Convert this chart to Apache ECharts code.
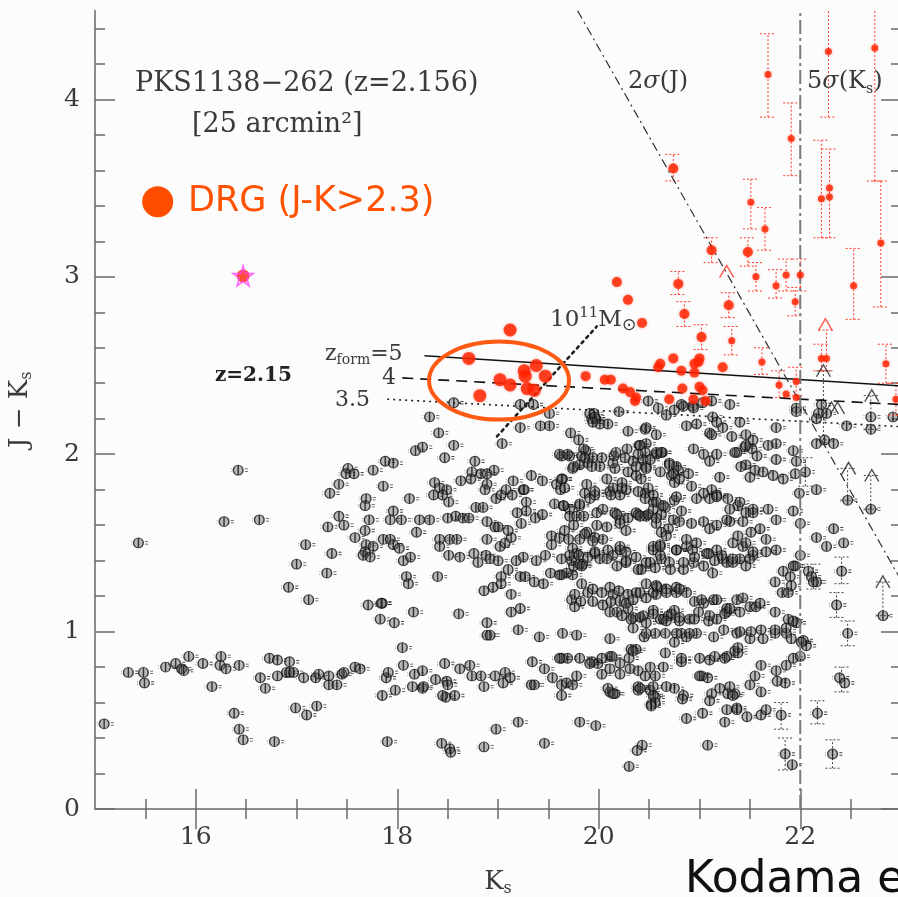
<!DOCTYPE html>
<html>
<head>
<meta charset="utf-8">
<title>PKS1138-262 J-Ks vs Ks</title>
<script src="https://cdn.jsdelivr.net/npm/echarts@6/dist/echarts.min.js"></script>
<style>
  html, body { margin: 0; padding: 0; background: #fcfcfc; }
  #chart { width: 898px; height: 897px; }
</style>
</head>
<body>
<div id="chart"></div>
<script>
// ---- axis ticks ----
const xMajorTicks = [16, 18, 20, 22];
const xMinorTicks = [15.5, 16.5, 17, 17.5, 18.5, 19, 19.5, 20.5, 21, 21.5, 22.5];
const yMajorTicks = [0, 1, 2, 3, 4];
const yMinorTicks = [0.2, 0.4, 0.6, 0.8, 1.2, 1.4, 1.6, 1.8, 2.2, 2.4, 2.6, 2.8, 3.2, 3.4, 3.6, 3.8, 4.2, 4.4];

// ---- field galaxies [Ks, J-Ks] ----
const fieldBright = [
[15.09,0.48],[15.33,0.77],[15.48,0.77],[15.49,0.71],[15.70,0.80],[15.80,0.82],[15.86,0.79],[15.88,0.78],[15.93,0.86],[16.07,0.82],[16.16,0.69],[16.25,0.86],[16.24,0.81],[16.30,0.79],[16.38,0.54],[16.43,0.81],[16.43,0.45],[16.47,0.39],[16.64,0.74],[16.69,0.68],[16.73,0.85],[16.78,0.38],[16.81,0.84],[16.81,0.75],[16.90,0.77],[16.93,0.77],[16.97,0.77],[16.93,0.83],[16.99,0.57],[17.07,0.74],[17.10,0.53],[17.19,0.74],[17.20,0.58],[17.22,0.76],[17.32,0.75],[17.32,0.70],[17.40,0.70],[17.45,0.76],[17.47,0.77],[17.58,0.80],[17.63,0.79],[17.71,1.15],[17.85,1.16],[17.83,1.07],[17.89,0.74],[17.85,0.64],[17.90,0.38],[17.91,0.77],[17.12,1.18],
[16.42,1.91],[16.28,1.62],[16.63,1.63],[15.43,1.50],[17.09,1.49],[17.00,1.38],[16.92,1.25],[17.30,1.33],[17.35,1.44],[17.31,1.59],[17.42,1.65],[17.47,1.60],[17.33,1.78],[17.42,1.83],[17.51,1.92],[17.49,1.89],[17.57,1.89],[17.76,1.91],[17.86,1.82],[17.69,1.75],[17.68,1.71],[17.72,1.63],[17.68,1.57],[17.58,1.53],[17.69,1.49],[17.76,1.48],[17.68,1.45],[17.66,1.43],[17.73,1.42],[17.86,1.52],[17.84,1.16],[17.88,1.96],
[17.98,0.67],[18.25,0.68],[18.48,0.63],[18.57,0.64],[18.44,0.37],[18.52,0.34],[18.53,0.32],[18.41,2.12],[18.18,2.02],[18.25,2.04],[18.47,1.98],[17.96,1.95],[18.37,1.84],[18.42,1.81],[18.49,1.80],[18.12,1.75],[18.36,1.77],[18.45,1.77],[18.51,1.73],[17.96,1.68],[17.93,1.63],[18.04,1.63],[18.22,1.63],[18.32,1.63],[18.50,1.64],[18.19,1.56],[18.42,1.52],[17.93,1.52],[17.96,1.49],[18.02,1.47],[18.42,1.48],[18.06,1.40],[18.13,1.42],[18.09,1.31],[18.11,1.27],[18.40,1.31],[18.16,1.11],[17.97,1.05],[18.05,0.91],[18.47,0.82],[18.49,0.72],[18.06,0.81],[18.17,0.76],[18.25,0.78],[18.38,0.73],[18.50,0.70],[18.15,0.69],[18.26,0.69],[18.45,0.64],[18.32,2.21]
];

const fieldMid = [
[18.86,0.35],[18.98,0.45],[19.20,0.49],[19.46,0.37],[19.63,0.64],[19.81,0.49],[19.97,0.47],[20.11,0.66],[20.16,0.65],
[19.72,2.12],[20.29,2.13],[18.56,2.05],[19.04,2.06],[19.80,2.08],[20.28,2.03],[19.63,1.99],[19.71,1.99],[19.87,2.02],[19.83,1.99],[19.94,1.98],[20.03,1.98],[20.15,1.99],[18.77,1.96],
[18.74,1.90],[18.83,1.89],[18.89,1.89],[18.96,1.91],[19.33,1.88],[19.44,1.85],[18.63,1.85],[18.73,1.86],[18.89,1.83],[18.87,1.80],[19.15,1.85],[19.25,1.80],[19.58,1.83],[19.64,1.86],[19.62,1.80],[19.74,1.92],[19.81,1.94],[19.89,1.95],[20.01,1.93],[20.08,1.86],[20.16,1.92],[20.23,1.84],[20.29,1.90],
[18.98,1.75],[19.03,1.77],[19.08,1.80],[19.14,1.77],[19.26,1.80],[19.28,1.73],[19.56,1.72],[19.65,1.71],[19.71,1.69],[19.81,1.71],[19.86,1.78],[19.91,1.75],[19.96,1.77],[20.11,1.79],[20.21,1.77],[20.27,1.80],
[18.58,1.65],[18.65,1.64],[18.71,1.64],[18.78,1.70],[18.85,1.70],[19.19,1.67],[19.28,1.68],[19.37,1.64],[19.44,1.66],[18.89,1.62],[18.97,1.59],[19.00,1.59],[19.71,1.65],[19.78,1.65],[19.85,1.65],[19.98,1.67],[20.04,1.69],[20.16,1.67],[20.21,1.63],[20.29,1.64],
[18.52,1.52],[18.59,1.52],[18.89,1.52],[19.02,1.48],[19.07,1.50],[19.13,1.53],[19.10,1.57],[19.23,1.61],[19.53,1.54],[19.61,1.53],[19.53,1.49],[19.70,1.52],[19.81,1.52],[19.88,1.56],[19.96,1.53],
[18.51,1.43],[18.62,1.42],[18.76,1.44],[18.80,1.39],[18.88,1.43],[18.92,1.41],[19.00,1.40],[19.18,1.40],[19.25,1.42],[19.38,1.40],[19.47,1.43],[19.74,1.47],[19.78,1.44],[19.73,1.40],[19.84,1.38],[19.89,1.42],[19.96,1.44],[20.01,1.41],[20.09,1.46],[20.14,1.43],[20.21,1.46],[20.27,1.40],
[19.03,1.31],[19.10,1.35],[19.22,1.31],[19.27,1.31],[19.36,1.28],[19.45,1.27],[18.95,1.25],[18.86,1.23],[19.03,1.27],[19.13,1.21],[19.52,1.33],[19.63,1.32],[19.74,1.32],[19.83,1.27],[19.89,1.22],[19.94,1.24],[20.03,1.22],[20.11,1.25],[20.14,1.21],[20.20,1.23],[20.29,1.21],[19.73,1.18],[19.82,1.17],[19.76,1.21],
[18.61,1.10],[19.13,1.11],[19.22,1.13],[18.89,1.05],[20.11,1.11],[20.18,1.11],[20.23,1.09],[20.29,1.13],
[19.20,1.01],[18.89,0.98],[18.92,0.98],[19.41,0.97],[19.64,0.99],[19.78,0.98],[20.11,0.96],
[19.34,0.83],[19.46,0.79],[19.63,0.85],[19.69,0.85],[19.81,0.85],[19.93,0.83],[19.99,0.82],[20.11,0.86],[20.21,0.82],[18.62,0.79],[18.72,0.81],[18.74,0.75],[18.83,0.75],[18.97,0.75],[19.07,0.77],[19.12,0.74],[18.86,0.69],[19.05,0.71],[19.33,0.70],[19.36,0.70],[19.54,0.74],[19.63,0.70],[19.68,0.71],[19.74,0.70],[19.78,0.75],
[20.03,0.76],[20.11,0.79],[20.21,0.76],[20.09,0.68],[20.14,0.65],
[20.20,2.24],[19.95,2.23],[19.93,2.20],[20.01,2.17],[20.09,2.17],[19.97,2.20],[19.85,2.03],[19.86,1.98],[20.17,2.01],[20.26,1.98],[19.61,2.00],[19.69,2.00],[19.75,1.93],[19.93,1.93],[20.14,1.95],[19.63,1.86],[19.66,1.81],[19.88,1.83],[19.96,1.79],[20.14,1.81],[20.23,1.81],[19.65,1.71],[19.81,1.72],[20.12,1.77],[20.18,1.66],
[19.66,1.57],[19.75,1.60],[19.86,1.55],[19.98,1.60],[20.08,1.59],[20.21,1.61],[20.27,1.57],[19.94,1.51],[20.04,1.52],[20.21,1.48],[20.27,1.45],[19.80,1.43],[19.71,1.43],[19.96,1.45],[19.63,1.41],[19.68,1.33],[19.75,1.37],[19.81,1.38],[20.08,1.41],[20.18,1.37],[20.27,1.39],
[19.61,1.32],[19.83,1.37],[19.76,1.14],[19.94,1.17],[20.04,1.15],[20.12,1.17],[20.21,1.17],[20.27,1.16],[20.13,0.86],[20.03,0.85],[19.91,0.82],[19.61,0.85],
[18.56,2.29],[19.22,2.28],[19.35,2.28],[19.51,2.23],[19.22,2.15],[19.42,2.16],[19.51,2.16],[19.91,2.23],[19.96,2.21],[19.94,2.18]
];

const fieldFaint = [
[20.43,0.36],[20.38,0.33],[20.30,0.24],[20.52,0.59],[20.39,0.67],[20.51,0.67],
[20.46,2.14],[20.57,2.11],[20.40,2.05],[20.47,2.06],[20.57,2.00],[20.63,2.01],[20.34,1.96],[20.44,1.97],[20.47,1.93],[20.70,1.95],[20.77,1.93],[20.37,1.88],[20.61,1.90],[20.72,1.88],[20.75,1.84],[20.46,1.78],[20.54,1.73],[20.66,1.70],[20.75,1.74],[20.37,1.67],[20.47,1.65],[20.39,1.66],[20.54,1.69],[20.62,1.66],[20.69,1.58],[20.74,1.63],
[20.37,1.42],[20.42,1.35],[20.47,1.39],[20.54,1.46],[20.62,1.41],[20.70,1.39],[20.77,1.46],[20.37,1.22],[20.47,1.19],[20.57,1.21],[20.67,1.24],[20.77,1.22],[20.34,1.08],[20.44,1.09],[20.54,1.12],[20.61,1.07],[20.69,1.09],[20.75,1.12],[20.45,0.97],[20.56,0.99],[20.66,0.88],[20.75,0.94],[20.32,0.90],[20.37,0.90],[20.30,0.85],[20.31,0.79],[20.34,0.89],[20.39,0.69],[20.46,0.75],[20.56,0.75],[20.54,0.69],[20.64,0.80],[20.75,0.68],[20.56,0.63],
[20.67,2.22],[20.75,2.25],[20.82,2.28],[20.93,2.27],[21.03,2.29],[21.30,2.28],[20.47,2.15],[20.87,2.16],[20.97,2.17],[21.10,2.12],[21.23,2.15],[21.40,2.18],[21.32,2.10],[20.41,2.05],[20.46,2.01],[20.51,1.97],[20.39,2.00],[20.57,2.01],[20.62,2.01],[20.94,2.03],[21.04,2.00],[21.10,1.96],[21.17,2.00],[21.37,2.01],[21.45,2.04],[21.52,2.03],[21.57,1.99],
[20.37,1.93],[20.47,1.92],[20.70,1.94],[20.79,1.91],[20.74,1.89],[20.80,1.86],[20.89,1.89],[21.20,1.87],[21.12,1.80],[21.46,1.94],[21.55,1.91],[21.50,1.87],[20.39,1.79],[20.49,1.81],[20.54,1.77],[20.46,1.75],[20.42,1.86],
[20.41,1.65],[20.49,1.66],[20.57,1.73],[20.82,1.68],[20.97,1.75],[21.10,1.75],[21.17,1.77],[21.28,1.75],[21.38,1.71],[21.46,1.67],[21.53,1.69],[21.43,1.62],
[20.57,1.61],[20.62,1.56],[20.61,1.49],[20.54,1.48],[20.67,1.54],[20.80,1.62],[20.92,1.61],[21.04,1.62],[21.10,1.58],[21.17,1.60],[21.30,1.62],[21.38,1.54],[21.51,1.56],[21.43,1.48],[21.33,1.50],[20.87,1.48],[20.93,1.46],[21.07,1.44],[21.15,1.40],[21.23,1.41],
[20.39,1.35],[20.51,1.39],[20.61,1.43],[20.84,1.35],[20.94,1.39],[21.04,1.37],[21.13,1.33],[21.27,1.39],[21.40,1.41],[21.46,1.37],[21.53,1.43],
[20.34,1.18],[20.41,1.22],[20.47,1.27],[20.54,1.22],[20.58,1.25],[20.67,1.22],[20.77,1.25],[20.87,1.22],[20.95,1.17],[21.04,1.16],[21.14,1.18],[21.27,1.13],[21.37,1.18],
[20.32,1.07],[20.41,1.08],[20.47,1.05],[20.54,1.10],[20.64,1.07],[20.72,1.10],[20.80,1.06],[20.90,1.07],[20.99,1.11],[21.09,1.06],[21.17,1.07],[21.27,1.11],
[20.34,1.02],[20.47,0.99],[20.66,0.99],[20.77,0.99],[20.87,0.97],[20.97,0.99],[21.14,0.97],[21.24,1.01],[21.37,0.99],
[20.39,0.78],[20.51,0.80],[20.82,0.83],[21.00,0.85],[21.10,0.84],[21.27,0.86],[21.35,0.89],[20.67,0.69],
[20.41,0.68],[20.54,0.64],[20.56,0.60],[20.52,0.58],[20.84,0.64],[21.02,0.75],[21.12,0.65],[21.20,0.68],[21.30,0.69],[21.35,0.65],[21.37,0.57],
[20.87,0.51],[21.03,0.54],[21.25,0.49],
[22.41,1.34],[22.36,1.15],[22.47,0.99],[22.39,0.74],[22.44,0.71],[22.17,0.54],[22.32,0.31],[22.82,1.09],[22.08,1.34],[22.11,1.31],[22.16,1.28],[22.13,1.28],[21.95,1.37],[22.03,0.95],[22.06,0.92],[21.93,0.85],[22.00,0.86],[21.85,0.71],[21.81,0.53],[21.77,0.72],[21.85,0.31],[21.92,0.25],[21.08,0.36],[21.27,0.56],[21.37,0.56],[21.47,0.52],[21.61,0.53],[21.66,0.56],[21.10,0.61],[21.28,0.65],[21.33,0.64],[21.50,0.70],[21.61,0.66],
[20.83,0.62],[21.00,0.75],[21.08,0.74],[21.25,0.85],[21.38,0.88],[21.55,0.75],[21.61,0.81],[21.76,0.78],[21.86,0.81],[20.82,0.85],[21.15,0.86],
[21.38,0.91],[21.50,0.96],[21.63,0.96],[21.75,0.99],[21.86,0.99],[21.91,0.96],[22.01,0.94],
[20.82,0.99],[20.90,0.99],[21.40,1.00],[21.51,1.00],[21.61,1.01],[21.75,1.01],[21.86,1.02],[21.96,1.05],
[20.67,1.06],[20.80,1.08],[20.95,1.07],[21.10,1.09],[21.25,1.10],[21.40,1.11],[21.50,1.14],[21.56,1.14],[21.75,1.11],[21.88,1.07],[21.93,1.06],
[20.57,1.26],[20.80,1.24],[21.02,1.18],[21.17,1.18],[21.30,1.13],[21.43,1.19],[21.60,1.16],[21.75,1.28],[21.82,1.22],[21.88,1.22],[21.91,1.26],[21.93,1.37],
[20.56,1.36],[20.71,1.35],[20.84,1.39],[20.95,1.42],[21.09,1.44],[21.22,1.43],[21.33,1.39],[21.50,1.41],[21.66,1.45],[21.83,1.34],[21.90,1.31],
[20.49,2.30],[20.59,2.26],[20.84,2.27],[20.94,2.26],[21.12,2.30],[21.13,2.21],[21.17,2.18],[21.12,2.11],[21.46,2.11],[21.76,2.15],[21.76,2.06],[21.68,2.05],[21.96,2.26],[21.96,2.24],[22.21,2.28],[22.18,2.23],[22.16,2.20],[22.26,2.23],[22.46,2.16],[22.70,2.21],[22.92,2.21],[22.70,2.14],[22.16,2.06],[22.24,2.08],[22.33,2.06],
[21.53,2.08],[21.46,2.05],[21.35,2.01],[21.41,1.93],[21.76,1.97],[21.93,2.02],[21.96,1.96],[21.63,1.90],[21.73,1.88],[21.83,1.86],[21.95,1.89],[22.05,1.90],[22.16,1.80],[22.47,1.74],[22.70,1.69],
[21.99,1.78],[22.00,1.61],[21.93,1.68],[21.76,1.63],[21.68,1.69],[21.53,1.67],[21.40,1.73],[21.30,1.69],[21.27,1.63],[21.17,1.76],[21.04,1.78],[20.92,1.82],[20.77,1.76],[20.64,1.71],[20.57,1.64],
[22.33,1.58],[22.43,1.50],[22.26,1.48],[22.16,1.53],
[22.00,1.43],[21.76,1.46],[21.66,1.52],[21.60,1.58],[21.46,1.50],[21.53,1.45],[21.33,1.41],[21.17,1.46],[20.97,1.50],[20.87,1.52],[20.77,1.46],[20.61,1.48]
];

// faint field sources: [Ks, lower, upper] on J-Ks
const fieldErrors = [
[22.41,1.27,1.42],[22.36,1.08,1.22],[22.47,0.92,1.06],[22.41,0.66,0.80],[22.17,0.48,0.61],[22.32,0.23,0.39],
[22.82,1.09,1.28],[22.70,1.69,1.88],[22.47,1.74,1.92],[22.70,2.14,2.33],[22.23,2.08,2.47],[22.05,1.82,1.98],
[21.85,0.22,0.40],[21.81,0.45,0.60],[22.13,1.24,1.38]
];
// lower limits on J-Ks (J undetected)
const fieldLimits = [[22.23,2.47],[22.31,2.26],[22.37,2.26],[22.71,2.33],[22.48,1.92],[22.71,1.88],[22.82,1.28]];

// ---- DRGs (J-Ks > 2.3) ----
const drgBright = [
[18.71,2.54],[19.12,2.70],[19.38,2.50],[19.26,2.47],[19.47,2.44],[19.02,2.42],[19.12,2.39],[19.27,2.44],[19.29,2.37],[19.36,2.36],[18.82,2.33]
];
const drgMid = [
[19.87,2.44],[20.18,2.97],[20.29,2.87],[20.43,2.74],[20.06,2.42],[20.12,2.42],[20.24,2.37],[20.31,2.35],[20.37,2.32],[20.36,2.30],
[20.79,2.96],[20.85,2.79],[20.74,3.61],[21.12,3.15],[21.48,3.14],[20.61,2.51],[20.59,2.49],[20.74,2.54],[20.82,2.47],[20.95,2.51],
[20.99,2.52],[21.00,2.54],[20.95,2.46],[21.00,2.38],[21.03,2.36],[20.83,2.37],[20.70,2.31],[20.94,2.31],[21.06,2.30],[21.02,2.66],
[21.29,2.84],[21.23,2.49]
];
const drgFaint = [
[21.32,2.64],[21.76,2.95],[21.95,2.86],[22.53,2.95],[21.62,2.52],[21.79,2.39],[21.86,2.34],[21.96,2.41],[21.96,2.32],[22.21,2.54],
[22.26,2.54],[22.85,2.51],[22.95,2.31],[21.68,4.14],[21.91,3.78],[22.28,4.27],[22.74,4.29],[21.51,3.42],[21.65,3.27],[21.56,3.00],
[21.86,3.01],[22.00,3.01],[22.21,3.44],[22.29,3.45],[22.29,3.50],[22.80,3.19]
];
const drgErrors = [
[21.68,3.90,4.37],[21.91,3.57,3.98],[22.28,3.90,4.60],[22.74,3.54,4.60],[20.74,3.54,3.69],[21.51,3.27,3.55],[21.65,3.15,3.39],
[21.48,3.06,3.22],[21.12,3.08,3.22],[21.56,2.92,3.08],[22.21,3.22,3.77],[22.29,3.22,3.72],[22.80,2.83,3.54],[22.53,2.76,3.16],
[21.86,2.92,3.10],[22.00,2.92,3.10],[22.21,2.47,2.62],[22.26,2.47,2.70],[21.32,2.56,2.72],[21.76,2.88,3.04],[21.95,2.78,2.94],
[21.62,2.45,2.60],[21.79,2.32,2.47],[21.96,2.33,2.49],[22.85,2.40,2.62],[20.79,2.90,3.03],[20.85,2.72,2.86],[21.29,2.77,2.91],
[21.02,2.59,2.73],[22.95,2.22,2.40]
];
const drgLimits = [[22.25,2.73],[21.27,3.03]];

// the radio galaxy itself
const radioGalaxy = [[16.47,3.005]];

// ---- model tracks and detection limits ----
const trackZf5 = [[18.27,2.555],[23,2.385]];
const trackZf4 = [[18.05,2.43],[23,2.28]];
const trackZf35 = [[17.90,2.31],[23,2.155]];
const massTrack = [[18.99,2.10],[19.98,2.72]];
const jLimit2sigma = [[19.79,4.5],[24.29,0]];
const ksLimit5sigma = [[22,0],[22,4.5]];

// ---- styling ----
const SERIF = '"DejaVu Serif", "Liberation Serif", serif';
const SANS = '"DejaVu Sans", "Liberation Sans", sans-serif';
const INK = '#3a3a3a';
const RED = '#ff2200';

// circle with a vertical bar and small error marks either side
const galaxySymbol = 'path://M12,2 C16.42,2 20,5.58 20,10 C20,14.42 16.42,18 12,18 C7.58,18 4,14.42 4,10 C4,5.58 7.58,2 12,2 Z M12,2 L12,18 M23,8 L28,8 M23,12 L28,12 M0,8 L1,8 M0,12 L1,12';
const chevron = 'path://M0,10 L6,0 L12,10';
const starPath = 'path://M50,0 L61,35 L98,35 L68,57 L79,91 L50,70 L21,91 L32,57 L2,35 L39,35 Z';

function errorBars(color, capHalf) {
  return function (params, api) {
    const x = api.value(0), lo = api.value(1), hi = api.value(2);
    const a = api.coord([x, lo]), b = api.coord([x, hi]);
    const st = { stroke: color, lineWidth: 1, lineDash: [2, 2], fill: null };
    return {
      type: 'group',
      children: [
        { type: 'line', shape: { x1: a[0], y1: a[1], x2: b[0], y2: b[1] }, style: st },
        { type: 'line', shape: { x1: a[0] - capHalf, y1: a[1], x2: a[0] + capHalf, y2: a[1] }, style: st },
        { type: 'line', shape: { x1: b[0] - capHalf, y1: b[1], x2: b[0] + capHalf, y2: b[1] }, style: st }
      ]
    };
  };
}

function fieldSeries(data) {
  return {
    type: 'scatter', data: data, symbol: galaxySymbol, symbolSize: [17, 10], symbolOffset: [1.3, 0],
    itemStyle: { color: 'rgba(95,95,95,0.55)', borderColor: 'rgba(10,10,10,0.95)', borderWidth: 1.1 },
    z: 2, silent: true
  };
}
function lineSeries(data, style, z) {
  return { type: 'line', data: data, symbol: 'none', silent: true, lineStyle: style, z: z || 5, clip: true };
}

const axisLineStyle = { color: '#8c8c8c', width: 2 };
const tickStyle = { color: '#6a6a6a', width: 1.5 };
const labelStyle = { fontFamily: SERIF, fontSize: 25, color: INK };

function xAxisPair(position, withLabel) {
  return [
    {
      type: 'value', min: 15, max: 23, position: position, gridIndex: 0,
      axisLine: { show: true, lineStyle: axisLineStyle },
      axisTick: { show: true, inside: true, length: 20, customValues: xMajorTicks, lineStyle: tickStyle },
      axisLabel: withLabel ? Object.assign({ show: true, customValues: xMajorTicks, margin: 16 }, labelStyle) : { show: false },
      splitLine: { show: false },
      name: withLabel ? '{a|K}{s|s}' : '',
      nameLocation: 'middle', nameGap: 58,
      nameTextStyle: {
        rich: {
          a: { fontFamily: SERIF, fontSize: 26, color: INK, lineHeight: 30 },
          s: { fontFamily: SERIF, fontSize: 16, color: INK, verticalAlign: 'bottom', lineHeight: 16, padding: [14, 0, 0, 0] }
        }
      }
    },
    {
      type: 'value', min: 15, max: 23, position: position, gridIndex: 0,
      axisLine: { show: false },
      axisTick: { show: true, inside: true, length: 10, customValues: xMinorTicks, lineStyle: tickStyle },
      axisLabel: { show: false }, splitLine: { show: false }
    }
  ];
}
function yAxisPair(position, withLabel) {
  return [
    {
      type: 'value', min: 0, max: 4.5, position: position, gridIndex: 0,
      axisLine: { show: true, lineStyle: axisLineStyle },
      axisTick: { show: true, inside: true, length: 20, customValues: yMajorTicks, lineStyle: tickStyle },
      axisLabel: withLabel ? Object.assign({ show: true, customValues: yMajorTicks, margin: 15 }, labelStyle) : { show: false },
      splitLine: { show: false },
      name: withLabel ? '{a|J − K}{s|s}' : '',
      nameLocation: 'middle', nameGap: 60, nameRotate: 90,
      nameTextStyle: {
        rich: {
          a: { fontFamily: SERIF, fontSize: 26, color: INK, lineHeight: 30 },
          s: { fontFamily: SERIF, fontSize: 16, color: INK, verticalAlign: 'bottom', lineHeight: 16, padding: [14, 0, 0, 0] }
        }
      }
    },
    {
      type: 'value', min: 0, max: 4.5, position: position, gridIndex: 0,
      axisLine: { show: false },
      axisTick: { show: true, inside: true, length: 10, customValues: yMinorTicks, lineStyle: tickStyle },
      axisLabel: { show: false }, splitLine: { show: false }
    }
  ];
}

const chart = echarts.init(document.getElementById('chart'), null, { renderer: 'canvas' });

const option = {
  backgroundColor: '#fcfcfc',
  animation: false,
  grid: { left: 95, right: -3, top: 10.7, bottom: 88, containLabel: false, outerBoundsMode: 'none' },
  xAxis: [].concat(xAxisPair('bottom', true), xAxisPair('top', false)),
  yAxis: [].concat(yAxisPair('left', true), yAxisPair('right', false)),
  series: [
    fieldSeries(fieldBright),
    fieldSeries(fieldMid),
    fieldSeries(fieldFaint),
    {
      type: 'custom', data: fieldErrors, renderItem: errorBars('#444', 7), encode: { x: 0, y: [1, 2] },
      clip: true, silent: true, z: 1
    },
    {
      type: 'scatter', data: fieldLimits, symbol: chevron, symbolSize: [14, 12],
      itemStyle: { color: 'rgba(0,0,0,0)', borderColor: '#222', borderWidth: 1.3 }, z: 3, silent: true
    },
    {
      type: 'custom', data: drgErrors, renderItem: errorBars('#ff3a2a', 8), encode: { x: 0, y: [1, 2] },
      clip: true, silent: true, z: 3
    },
    lineSeries(trackZf5, { color: '#111', width: 1.6, type: 'solid' }),
    lineSeries(trackZf4, { color: '#111', width: 1.6, type: [11, 7] }),
    lineSeries(trackZf35, { color: '#222', width: 1.6, type: [2, 4] }),
    lineSeries(massTrack, { color: '#222', width: 2.6, type: [2.5, 4.5], cap: 'round' }),
    lineSeries(jLimit2sigma, { color: '#333', width: 1.2, type: [9, 4, 2, 4] }),
    lineSeries(ksLimit5sigma, { color: '#7a7a7a', width: 2, type: [14, 4, 3, 4] }),
    {
      type: 'scatter', data: drgFaint, symbol: 'circle', symbolSize: 7,
      itemStyle: { color: RED, shadowBlur: 3, shadowColor: 'rgba(255,40,0,0.5)' }, z: 6, silent: true
    },
    {
      type: 'scatter', data: drgMid, symbol: 'circle', symbolSize: 10,
      itemStyle: { color: RED, shadowBlur: 3, shadowColor: 'rgba(255,40,0,0.5)' }, z: 6, silent: true
    },
    {
      type: 'scatter', data: drgBright, symbol: 'circle', symbolSize: 13,
      itemStyle: { color: RED, shadowBlur: 3, shadowColor: 'rgba(255,40,0,0.5)' }, z: 6, silent: true
    },
    {
      type: 'scatter', data: drgLimits, symbol: chevron, symbolSize: [14, 12],
      itemStyle: { color: 'rgba(0,0,0,0)', borderColor: '#ff3a2a', borderWidth: 1.5 }, z: 6, silent: true
    },
    {
      type: 'scatter', data: radioGalaxy, symbol: 'circle', symbolSize: 13,
      itemStyle: { color: RED }, z: 7, silent: true
    },
    {
      type: 'scatter', data: radioGalaxy, symbol: starPath, symbolSize: 20,
      itemStyle: { color: 'rgba(0,0,0,0)', borderColor: '#ff44ff', borderWidth: 1.6 }, z: 8, silent: true
    }
  ]
};
chart.setOption(option);

// annotations
const ellipseCentre = chart.convertToPixel({ gridIndex: 0 }, [19.01, 2.415]);
const richSerif = (size, extra) => Object.assign({ fontFamily: SERIF, fontSize: size, fill: INK }, extra || {});

chart.setOption({
  graphic: [
    { type: 'ellipse', shape: { cx: ellipseCentre[0], cy: ellipseCentre[1], rx: 70, ry: 39 },
      style: { fill: 'none', stroke: '#ff5a14', lineWidth: 4 }, z: 100 },
    { type: 'text', x: 135, y: 84, style: { text: 'PKS1138−262 (z=2.156)', font: '27px ' + SERIF, fill: INK, textVerticalAlign: 'middle' }, z: 100 },
    { type: 'text', x: 192, y: 125, style: { text: '[25 arcmin²]', font: '27px ' + SERIF, fill: INK, textVerticalAlign: 'middle' }, z: 100 },
    { type: 'circle', shape: { cx: 157.7, cy: 201.7, r: 15.5 }, style: { fill: '#ff4d00' }, z: 100 },
    { type: 'text', x: 188, y: 202, style: { text: 'DRG (J-K>2.3)', font: '35px ' + SANS, fill: '#ff5200', textVerticalAlign: 'middle' }, z: 100 },
    { type: 'text', x: 215, y: 376, style: { text: 'z=2.15', font: 'bold 20px ' + SERIF, fill: '#222', textVerticalAlign: 'middle' }, z: 100 },
    { type: 'text', x: 325, y: 354, style: {
        text: '{a|z}{b|form}{a|=5}', textVerticalAlign: 'middle',
        rich: { a: richSerif(22, { lineHeight: 26 }), b: richSerif(14, { verticalAlign: 'bottom', lineHeight: 14, padding: [10, 0, 0, 0] }) }
      }, z: 100 },
    { type: 'text', x: 382, y: 378, style: { text: '4', font: '22px ' + SERIF, fill: INK, textVerticalAlign: 'middle' }, z: 100 },
    { type: 'text', x: 335, y: 400, style: { text: '3.5', font: '22px ' + SERIF, fill: INK, textVerticalAlign: 'middle' }, z: 100 },
    { type: 'text', x: 550, y: 320, style: {
        text: '{a|10}{p|11}{a|M}{o|⊙}', textVerticalAlign: 'middle',
        rich: {
          a: richSerif(23, { lineHeight: 28 }),
          p: richSerif(15, { verticalAlign: 'top', lineHeight: 15 }),
          o: { fontFamily: SANS, fontSize: 17, fill: INK, verticalAlign: 'bottom', lineHeight: 17, padding: [12, 0, 0, 0] }
        }
      }, z: 100 },
    { type: 'text', x: 628, y: 82, style: {
        text: '{a|2}{g|σ}{a|(J)}', textVerticalAlign: 'middle',
        rich: { a: richSerif(24), g: richSerif(24, { fontStyle: 'italic' }) }
      }, z: 100 },
    { type: 'text', x: 807, y: 82, style: {
        text: '{a|5}{g|σ}{a|(K}{s|s}{a|)}', textVerticalAlign: 'middle',
        rich: {
          a: richSerif(24, { lineHeight: 28 }), g: richSerif(24, { fontStyle: 'italic', lineHeight: 28 }),
          s: richSerif(14, { verticalAlign: 'bottom', lineHeight: 14, padding: [10, 0, 0, 0] })
        }
      }, z: 100 },
    { type: 'text', x: 685, y: 881, style: { text: 'Kodama et al.', font: '44px ' + SANS, fill: '#111', textVerticalAlign: 'middle' }, z: 100 }
  ]
});
</script>
</body>
</html>
